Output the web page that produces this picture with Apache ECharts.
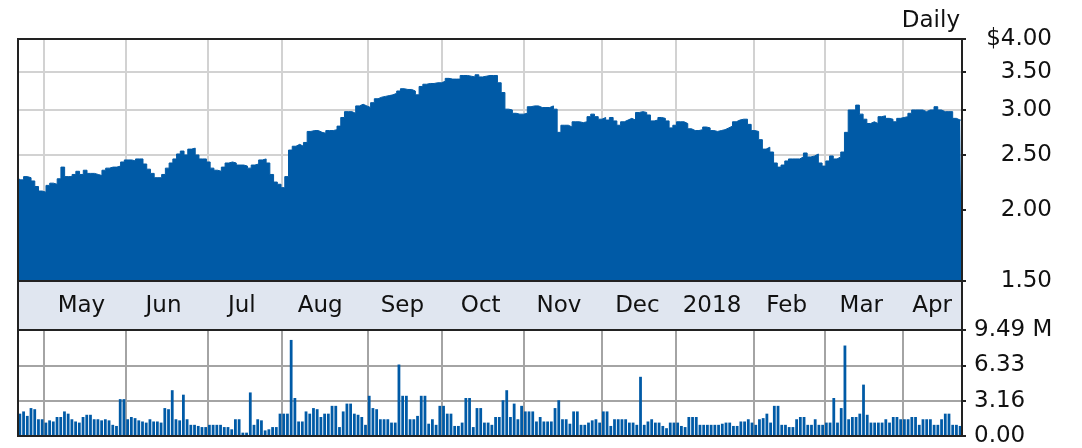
<!DOCTYPE html>
<html><head><meta charset="utf-8">
<script src="https://cdn.jsdelivr.net/npm/echarts@6/dist/echarts.min.js"></script>
<style>html,body{margin:0;padding:0;background:#fff}#c{width:1082px;height:448px}</style>
</head><body><div id="c"></div>
<script>
// Trading days per month (categories)
const monthDays = [
 ['2017-04',[20,21,24,25,26,27,28]],
 ['2017-05',[1,2,3,4,5,8,9,10,11,12,15,16,17,18,19,22,23,24,25,26,30,31]],
 ['2017-06',[1,2,5,6,7,8,9,12,13,14,15,16,19,20,21,22,23,26,27,28,29,30]],
 ['2017-07',[3,5,6,7,10,11,12,13,14,17,18,19,20,21,24,25,26,27,28,31]],
 ['2017-08',[1,2,3,4,7,8,9,10,11,14,15,16,17,18,21,22,23,24,25,28,29,30,31]],
 ['2017-09',[1,5,6,7,8,11,12,13,14,15,18,19,20,21,22,25,26,27,28,29]],
 ['2017-10',[2,3,4,5,6,9,10,11,12,13,16,17,18,19,20,23,24,25,26,27,30,31]],
 ['2017-11',[1,2,3,6,7,8,9,10,13,14,15,16,17,20,21,22,24,27,28,29,30]],
 ['2017-12',[1,4,5,6,7,8,11,12,13,14,15,18,19,20,21,22,26,27,28,29]],
 ['2018-01',[2,3,4,5,8,9,10,11,12,16,17,18,19,22,23,24,25,26,29,30,31]],
 ['2018-02',[1,2,5,6,7,8,9,12,13,14,15,16,20,21,22,23,26,27,28]],
 ['2018-03',[1,2,5,6,7,8,9,12,13,14,15,16,19,20,21,22,23,26,27,28,29]],
 ['2018-04',[2,3,4,5,6,9,10,11,12,13,16,17,18,19,20,23]]
];
const monthLabels = ['', 'May', 'Jun', 'Jul', 'Aug', 'Sep', 'Oct', 'Nov', 'Dec', '2018', 'Feb', 'Mar', 'Apr'];
const priceTicks = [1.50, 2.00, 2.50, 3.00, 3.50, 4.00];
const volumeTicks = [0.00, 3.16, 6.33, 9.49];

const prices = [
 2.28,2.26,2.29,2.28,2.25,2.20,2.16,2.15,2.21,2.23,
 2.22,2.27,2.38,2.29,2.29,2.31,2.34,2.31,2.35,2.32,
 2.32,2.31,2.30,2.35,2.37,2.38,2.38,2.39,2.43,2.45,
 2.45,2.44,2.46,2.46,2.41,2.36,2.32,2.28,2.28,2.31,
 2.37,2.42,2.46,2.51,2.54,2.50,2.56,2.57,2.50,2.46,
 2.46,2.43,2.37,2.35,2.34,2.38,2.42,2.43,2.42,2.40,
 2.40,2.39,2.37,2.40,2.41,2.45,2.46,2.42,2.31,2.24,
 2.22,2.19,2.29,2.55,2.59,2.61,2.59,2.63,2.75,2.76,
 2.76,2.74,2.73,2.76,2.76,2.77,2.81,2.91,2.98,2.98,
 2.96,3.05,3.07,3.05,3.03,3.09,3.14,3.16,3.17,3.18,
 3.19,3.21,3.24,3.27,3.26,3.26,3.24,3.19,3.30,3.33,
 3.34,3.34,3.35,3.35,3.37,3.41,3.40,3.40,3.40,3.45,
 3.45,3.44,3.43,3.46,3.43,3.44,3.45,3.45,3.45,3.35,
 3.22,3.01,3.00,2.96,2.95,2.95,2.96,3.04,3.05,3.05,
 3.03,3.03,3.03,3.05,3.01,2.74,2.82,2.82,2.80,2.86,
 2.86,2.85,2.86,2.92,2.95,2.92,2.89,2.91,2.88,2.91,
 2.87,2.82,2.86,2.88,2.90,2.88,2.97,2.98,2.97,2.94,
 2.87,2.88,2.91,2.90,2.87,2.79,2.82,2.86,2.86,2.84,
 2.78,2.76,2.76,2.77,2.80,2.79,2.76,2.75,2.76,2.77,
 2.79,2.81,2.86,2.88,2.89,2.89,2.83,2.76,2.75,2.66,
 2.56,2.58,2.53,2.42,2.38,2.40,2.44,2.46,2.46,2.46,
 2.48,2.52,2.48,2.49,2.51,2.42,2.39,2.44,2.49,2.46,
 2.48,2.53,2.74,3.00,3.00,3.06,2.95,2.89,2.84,2.86,
 2.84,2.92,2.93,2.90,2.89,2.86,2.90,2.91,2.92,2.96,
 3.00,3.00,3.00,2.98,3.00,3.00,3.04,3.00,2.98,2.98,
 2.98,2.90,2.88,2.88
];

// Volume in millions
const volumes = [
 2.0,2.2,1.8,2.5,2.4,1.5,1.5,1.2,1.4,1.3,
 1.7,1.7,2.2,2.0,1.5,1.3,1.2,1.7,1.9,1.9,
 1.5,1.5,1.4,1.5,1.4,1.0,0.9,3.3,3.3,1.5,
 1.7,1.6,1.4,1.3,1.2,1.5,1.3,1.3,1.2,2.5,
 2.4,4.1,1.5,1.4,3.7,1.5,1.0,1.0,0.9,0.8,
 0.8,1.0,1.0,1.0,1.0,0.8,0.8,0.6,1.5,1.5,
 0.3,0.3,3.9,1.0,1.5,1.4,0.5,0.6,0.8,0.8,
 2.0,2.0,2.0,8.6,3.4,1.3,1.3,2.2,2.0,2.5,
 2.4,1.7,2.0,2.0,2.7,2.7,0.8,2.2,2.9,2.9,
 2.0,1.9,1.7,1.0,3.6,2.5,2.4,1.5,1.5,1.5,
 1.2,1.2,6.4,3.6,3.6,1.5,1.5,1.8,3.6,3.6,
 1.1,1.5,1.0,2.7,2.7,2.0,2.0,0.9,0.9,1.2,
 3.4,3.4,0.8,2.5,2.5,1.2,1.2,1.0,1.7,1.7,
 3.2,4.1,1.7,2.9,1.5,2.7,2.2,2.2,2.2,1.3,
 1.7,1.3,1.3,1.3,2.5,3.2,1.5,1.5,1.1,2.2,
 2.2,1.0,1.0,1.2,1.4,1.5,1.2,2.2,2.2,0.9,
 1.5,1.5,1.5,1.5,1.2,1.2,1.0,5.3,1.0,1.3,
 1.5,1.2,1.2,0.9,0.7,1.2,1.2,1.2,0.9,0.8,
 1.7,1.7,1.7,1.0,1.0,1.0,1.0,1.0,1.0,1.1,
 1.2,1.2,0.9,0.9,1.3,1.3,1.5,1.2,1.0,1.5,
 1.6,2.0,1.2,2.7,2.7,1.0,1.0,0.8,0.8,1.5,
 1.7,1.7,1.0,1.0,1.5,1.0,1.0,1.2,1.2,3.4,
 1.2,2.5,8.1,1.5,1.7,1.7,2.0,4.6,1.9,1.2,
 1.2,1.2,1.2,1.5,1.2,1.7,1.7,1.5,1.5,1.5,
 1.7,1.7,1.0,1.5,1.5,1.5,1.0,1.0,1.5,2.0,
 2.0,1.0,1.0,0.9
];

// Build category table
const dates = [];
const monthStart = new Set();
const labelAt = {};
monthDays.forEach(([ym, days], m) => {
  const start = dates.length;
  if (m > 0) monthStart.add(start);
  days.forEach(d => dates.push(ym + '-' + String(d).padStart(2, '0')));
  if (monthLabels[m]) labelAt[start + Math.floor(days.length / 2) - 1] = monthLabels[m];
});

const FONT = 'DejaVu Sans';
const FS = 23;
const TXT = '#111';
const BLUE = '#005aa6';
const L = 18, R = 962, PT = 39, PB = 281, VT = 330, VB = 436;
const logTicks = priceTicks.map(v => Math.log10(v));

const chart = echarts.init(document.getElementById('c'), null, {renderer: 'canvas'});
chart.setOption({
  animation: false,
  backgroundColor: '#fff',
  grid: [
    {left: L, top: PT, width: R - L, height: PB - PT},
    {left: L, top: VT, width: R - L, height: VB - VT}
  ],
  xAxis: [
    {type: 'category', gridIndex: 0, data: dates, boundaryGap: false, z: 10,
     axisLine: {show: false}, axisTick: {show: false}, splitLine: {show: false},
     axisLabel: {interval: (i) => (i in labelAt), formatter: (v, i) => labelAt[i] || '',
       margin: 25, verticalAlign: 'middle', fontFamily: FONT, fontSize: FS, color: TXT}},
    {type: 'category', gridIndex: 0, data: dates, boundaryGap: true, position: 'top',
     axisLine: {show: false}, axisTick: {show: false}, axisLabel: {show: false},
     splitLine: {show: true, interval: (i) => monthStart.has(i), lineStyle: {color: '#d2d2d2', width: 2}}},
    {type: 'category', gridIndex: 1, data: dates, boundaryGap: true,
     axisLine: {show: false}, axisTick: {show: false}, axisLabel: {show: false},
     splitLine: {show: true, interval: (i) => monthStart.has(i), lineStyle: {color: '#a4a4a4', width: 2}}}
  ],
  yAxis: [
    {type: 'log', gridIndex: 0, position: 'right', min: priceTicks[0], max: priceTicks[priceTicks.length - 1], show: false},
    {type: 'value', gridIndex: 0, position: 'right', min: logTicks[0], max: logTicks[logTicks.length - 1],
     axisLine: {show: false},
     axisTick: {show: true, customValues: logTicks, length: 4, lineStyle: {color: '#222', width: 2}},
     axisLabel: {customValues: logTicks, align: 'right', margin: 90, fontFamily: FONT, fontSize: FS, color: TXT,
       formatter: (v) => {
         const p = Math.pow(10, v);
         return (Math.abs(p - priceTicks[priceTicks.length - 1]) < 1e-6 ? '$' : '') + p.toFixed(2);
       }},
     splitLine: {show: true, lineStyle: {color: '#d2d2d2', width: 2}}},
    {type: 'value', gridIndex: 1, position: 'right', min: volumeTicks[0], max: volumeTicks[volumeTicks.length - 1],
     axisLine: {show: false},
     axisTick: {show: true, customValues: volumeTicks, length: 4, lineStyle: {color: '#222', width: 2}},
     axisLabel: {customValues: volumeTicks, margin: 12, fontFamily: FONT, fontSize: FS, color: TXT,
       formatter: (v) => v.toFixed(2) + (v === volumeTicks[volumeTicks.length - 1] ? ' M' : '')},
     splitLine: {show: true, lineStyle: {color: '#a4a4a4', width: 2}}}
  ],
  series: [
    {type: 'line', xAxisIndex: 0, yAxisIndex: 0, data: prices, showSymbol: false, symbol: 'none', step: 'middle',
     lineStyle: {color: BLUE, width: 1}, areaStyle: {color: BLUE, opacity: 1, origin: 'start'}, z: 2},
    {type: 'bar', xAxisIndex: 2, yAxisIndex: 2, data: volumes, barWidth: '75%',
     itemStyle: {color: BLUE}, z: 2}
  ],
  graphic: {elements: [
    {type: 'text', x: 960, y: 21, silent: true, z: 50,
     style: {text: 'Daily', fontFamily: FONT, fontSize: FS, fill: TXT, align: 'right', verticalAlign: 'middle'}},
    {type: 'rect', silent: true, z: 1, shape: {x: L, y: PB, width: R - L, height: VT - PB},
     style: {fill: '#e0e6f0'}},
    {type: 'rect', silent: true, z: 100, shape: {x: L, y: PT, width: R - L, height: PB - PT},
     style: {fill: 'none', stroke: '#222', lineWidth: 2}},
    {type: 'rect', silent: true, z: 100, shape: {x: L, y: PB, width: R - L, height: VT - PB},
     style: {fill: 'none', stroke: '#222', lineWidth: 2}},
    {type: 'rect', silent: true, z: 100, shape: {x: L, y: VT, width: R - L, height: VB - VT},
     style: {fill: 'none', stroke: '#222', lineWidth: 2}}
  ]}
});
</script>
</body></html>
